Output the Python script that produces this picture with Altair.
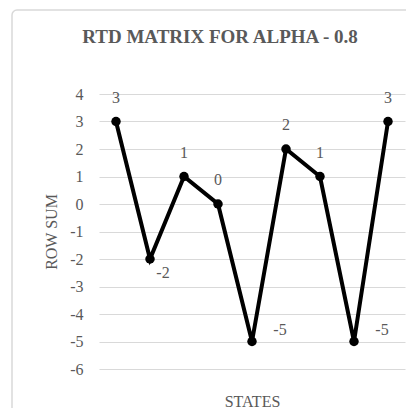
import altair as alt
import pandas as pd

states = ["S1", "S2", "S3", "S4", "S5", "S6", "S7", "S8", "S9"]
row_sum = [3, -2, 1, 0, -5, 2, 1, -5, 3]
label_pos = ["above", "below-right", "above", "above", "right", "above", "above", "right", "above"]
y_ticks = [-6, -5, -4, -3, -2, -1, 0, 1, 2, 3, 4]

df = pd.DataFrame({"state": states, "sum": row_sum, "pos": label_pos})

FONT = "'Liberation Serif', 'Times New Roman', serif"
GRAY = "#595959"

x = alt.X("state:N", sort=None, scale=alt.Scale(type="point", padding=0.5),
          axis=alt.Axis(labels=False, ticks=False, domain=False, grid=False,
                        title="STATES", titlePadding=24))
y = alt.Y("sum:Q", scale=alt.Scale(domain=[-6, 4], nice=False, zero=False),
          axis=alt.Axis(values=y_ticks, ticks=False, domain=False, grid=True,
                        labelExpr="datum.value + ''",
                        title="ROW SUM", titlePadding=10, labelPadding=16))

base = alt.Chart(df).transform_calculate(lbl="datum.sum + ''")

frame = alt.Chart(pd.DataFrame({"k": [0]})).mark_rect(
    fillOpacity=0, stroke="#d9d9d9", strokeWidth=1.5, cornerRadius=5
).encode(x=alt.value(-87), x2=alt.value(330), y=alt.value(-84), y2=alt.value(420))

line = base.mark_line(color="black", strokeWidth=4).encode(x=x, y=y)
pts = base.mark_point(filled=True, color="black", size=90, opacity=1).encode(x=x, y=y)

def labels(pos, dx, dy):
    return base.transform_filter(alt.datum.pos == pos).mark_text(
        font=FONT, fontSize=16, color=GRAY, dx=dx, dy=dy, baseline="middle", align="center"
    ).encode(x=x, y=y, text="lbl:N")

chart = alt.layer(
    frame, line, pts,
    labels("above", 0, -24),
    labels("below-right", 13, 14),
    labels("right", 28, -12),
).properties(
    width=306, height=275,
    autosize=alt.AutoSizeParams(type="none"),
    padding={"left": 91, "top": 86, "right": 1, "bottom": 39},
    title=alt.TitleParams("RTD MATRIX FOR ALPHA - 0.8", font=FONT, fontSize=19,
                          fontWeight="bold", color=GRAY, anchor="middle",
                          baseline="alphabetic",
                          frame="group", dx=-32, offset=-53),
).configure_axis(
    labelFont=FONT, labelFontSize=16, labelColor=GRAY,
    titleFont=FONT, titleFontSize=16, titleColor=GRAY, titleFontWeight="normal",
    gridColor="#d9d9d9", gridWidth=1,
).configure_view(stroke=None)

chart.save("out.html", embed_options={"renderer": "svg", "actions": False})
